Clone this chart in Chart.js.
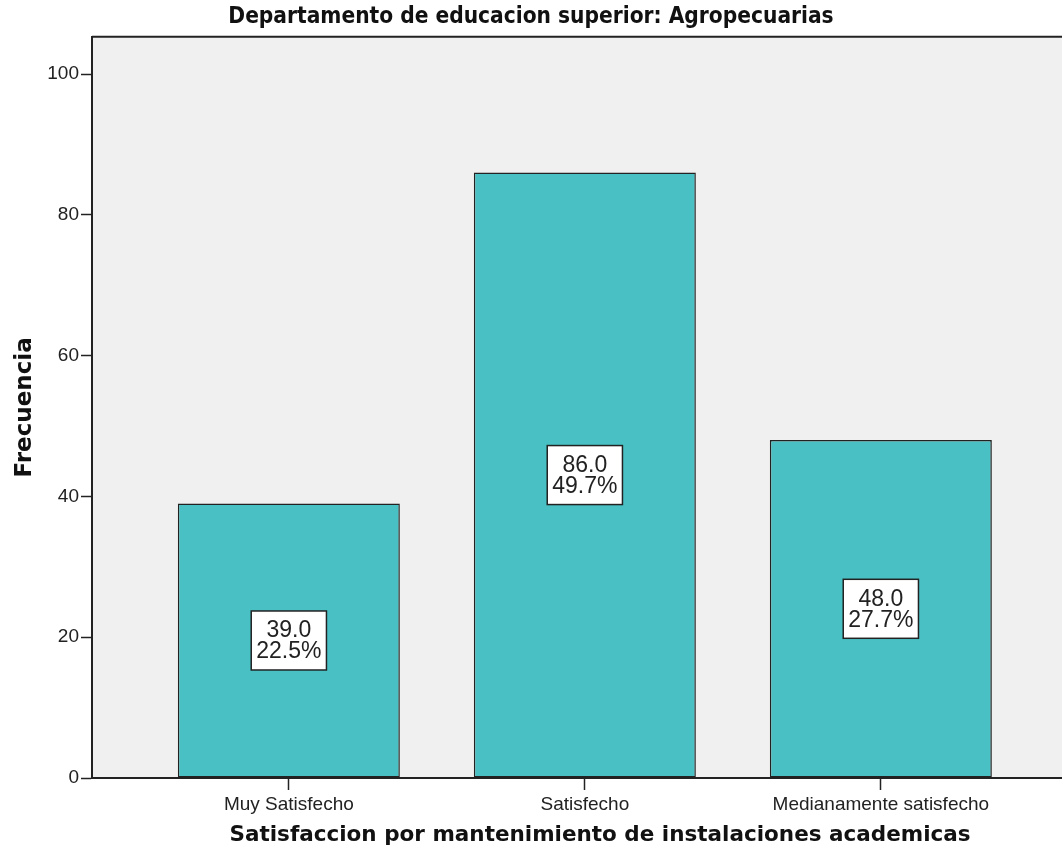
<!DOCTYPE html>
<html>
<head>
<meta charset="utf-8">
<title>Departamento de educacion superior: Agropecuarias</title>
<script src="https://cdn.jsdelivr.net/npm/chart.js@4"></script>
<style>
  body { margin: 0; background: #fff; }
  canvas { display: block; }
</style>
</head>
<body>
<canvas id="barChart" width="1062" height="852"></canvas>
<script>
// data
const categories = ['Muy Satisfecho', 'Satisfecho', 'Medianamente satisfecho'];
const frequencies = [39, 86, 48];
const percents = [22.5, 49.7, 27.7];
const yTicks = [0, 20, 40, 60, 80, 100];

const tickFont = { family: '"Liberation Sans", Arial, sans-serif', size: 19 };
const axisColor = '#222';
const xTitle = 'Satisfaccion por mantenimiento de instalaciones academicas';

// light grey plot background, top border line and the x axis title
const plotFrame = {
    id: 'plotFrame',
    beforeDraw(chart) {
        const a = chart.chartArea;
        const ctx = chart.ctx;
        ctx.save();
        ctx.fillStyle = '#f0f0f0';
        ctx.fillRect(a.left, a.top, a.right - a.left, a.bottom - a.top);
        ctx.restore();
    },
    afterDraw(chart) {
        const a = chart.chartArea;
        const ctx = chart.ctx;
        ctx.save();
        ctx.strokeStyle = axisColor;
        ctx.lineWidth = 2;
        ctx.beginPath();
        ctx.moveTo(a.left, a.top);
        ctx.lineTo(a.right, a.top);
        ctx.stroke();
        // the original plot runs on past the right edge, so its title sits right of centre
        ctx.fillStyle = '#111';
        ctx.font = 'bold 21.5px "DejaVu Sans", Verdana, sans-serif';
        ctx.textAlign = 'center';
        ctx.textBaseline = 'middle';
        ctx.fillText(xTitle, (a.left + a.right) / 2 + 23, chart.height - 17);
        ctx.restore();
    }
};

// white boxes with count and percent in the middle of each bar
const labelBoxes = {
    id: 'labelBoxes',
    afterDatasetsDraw(chart) {
        const ctx = chart.ctx;
        const meta = chart.getDatasetMeta(0);
        const lh = 21;
        ctx.save();
        ctx.font = '23px "Liberation Sans", Arial, sans-serif';
        meta.data.forEach(function(bar, i) {
            const lines = [frequencies[i].toFixed(1), percents[i].toFixed(1) + '%'];
            const w = Math.max.apply(null, lines.map(t => ctx.measureText(t).width)) + 10;
            const h = lh * 2 + 17;
            const cx = bar.x;
            const cy = (bar.y + bar.base) / 2;
            ctx.fillStyle = '#ffffff';
            ctx.fillRect(cx - w / 2, cy - h / 2, w, h);
            ctx.strokeStyle = axisColor;
            ctx.lineWidth = 1.5;
            ctx.strokeRect(cx - w / 2, cy - h / 2, w, h);
            ctx.fillStyle = '#222';
            ctx.textAlign = 'center';
            ctx.textBaseline = 'middle';
            ctx.fillText(lines[0], cx, cy - lh / 2 + 1);
            ctx.fillText(lines[1], cx, cy + lh / 2 + 1);
        });
        ctx.restore();
    }
};

const ctx = document.getElementById('barChart');

new Chart(ctx.getContext('2d'), {
    type: 'bar',
    data: {
        datasets: [{
            data: frequencies.map((v, i) => ({ x: i + 1, y: v })),
            backgroundColor: '#49c1c4',
            borderColor: axisColor,
            borderWidth: 1.5,
            borderSkipped: false,
            categoryPercentage: 1,
            barPercentage: 0.75
        }]
    },
    options: {
        responsive: false,
        animation: false,
        layout: { padding: 0 },
        plugins: {
            legend: { display: false },
            tooltip: { enabled: false },
            title: {
                display: true,
                text: 'Departamento de educacion superior: Agropecuarias',
                color: '#111',
                font: { family: '"Liberation Sans Narrow", "DejaVu Sans Condensed", sans-serif', size: 22.5, weight: 'bold', lineHeight: 1.1 },
                padding: { top: 5, bottom: 7 }
            }
        },
        scales: {
            x: {
                type: 'linear',
                offset: false,
                min: 0.335,
                max: 3.612,
                afterFit(scale) { scale.height = 74; },
                afterBuildTicks(scale) {
                    scale.ticks = categories.map((c, i) => ({ value: i + 1 }));
                },
                grid: {
                    drawOnChartArea: false,
                    drawTicks: true,
                    tickLength: 12,
                    tickColor: axisColor,
                    tickWidth: 1.5,
                    offset: false
                },
                border: { color: axisColor, width: 2 },
                ticks: {
                    autoSkip: false,
                    maxRotation: 0,
                    padding: 3,
                    color: '#222',
                    font: tickFont,
                    callback: (v) => categories[v - 1]
                }
            },
            y: {
                min: 0,
                max: 105.3,
                afterFit(scale) { scale.width = 92; },
                afterBuildTicks(scale) {
                    scale.ticks = yTicks.map(v => ({ value: v }));
                },
                grid: {
                    drawOnChartArea: false,
                    drawTicks: true,
                    tickLength: 11,
                    tickColor: axisColor,
                    tickWidth: 1.5
                },
                border: { color: axisColor, width: 2 },
                ticks: {
                    padding: 2,
                    color: '#222',
                    font: tickFont
                },
                title: {
                    display: true,
                    text: 'Frecuencia',
                    color: '#111',
                    font: { family: '"DejaVu Sans", Verdana, sans-serif', size: 23, weight: 'bold' },
                    padding: { top: 11, bottom: 0 }
                }
            }
        }
    },
    plugins: [plotFrame, labelBoxes]
});
</script>
</body>
</html>
